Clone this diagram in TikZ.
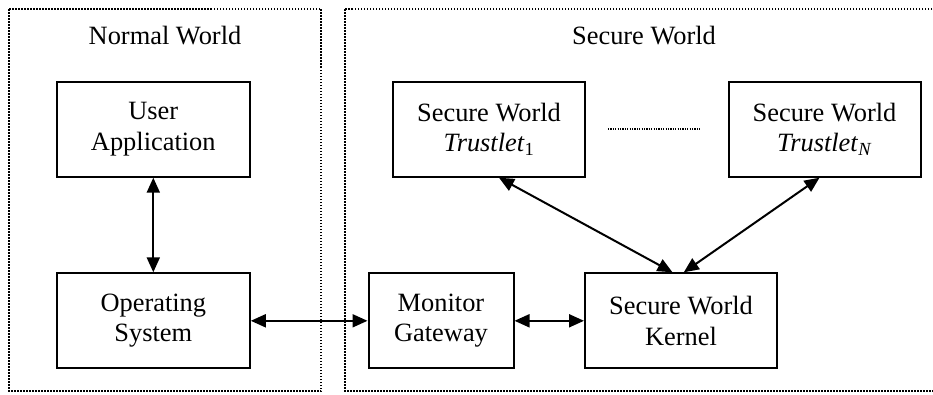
\documentclass[tikz,border=0pt]{standalone}
\usepackage{fontspec}
\setmainfont{Liberation Serif}
\usetikzlibrary{arrows.meta}
\begin{document}
\begin{tikzpicture}[x=1pt,y=-1pt,
  every node/.style={font=\fontsize{26.4}{30.4}\selectfont, align=center, inner sep=0pt},
  block/.style={draw, line width=2pt, minimum width=192pt, minimum height=95pt},
  world/.style={line width=1.5pt, dash pattern=on 1.5pt off 1.5pt},
  link/.style={line width=2pt, {Triangle[length=15pt,width=13pt]}-{Triangle[length=15pt,width=13pt]}},
  title/.style={}]
  \useasboundingbox (0,0) rectangle (933,394);

  % the two worlds
  \draw[world] (9,9) rectangle (321,391);
  \draw[world] (345,9) rectangle (945,391);
  \node[title] (nwt) at (165,36) {Normal World};
  \node[title] (swt) at (644,36) {Secure World};

  % normal world components
  \node[block, minimum width=193pt] (ua) at (153.3,129.2) {User\\Application};
  \node[block, minimum width=193pt] (os) at (153.3,320.8) {Operating\\System};

  % secure world components
  \node[block, minimum width=145pt] (mg) at (441,320.8) {Monitor\\Gateway};
  \node[block] (kern) at (681,320.8) {Secure World\\Kernel};
  \node[block] (t1) at (489,129.2) {Secure World\\\textit{Trustlet}\textsubscript{1}};
  \node[block] (tn) at (824.5,129.2) {Secure World\\\textit{Trustlet}\textsubscript{\textit{N}}};

  % ellipsis between the trustlets
  \coordinate (dl) at (608,129);
  \coordinate (dr) at (701,129);
  \draw[line width=1.2pt, dash pattern=on 1.2pt off 1.2pt] (dl) -- (dr);

  % connectors
  \draw[link] (ua.south) -- (os.north);
  \draw[link] (os.east) -- (mg.west);
  \draw[link] (mg.east) -- (kern.west);
  \draw[link] ([xshift=10pt]t1.south) -- ([xshift=-8.5pt]kern.north);
  \draw[link] ([xshift=-5pt]tn.south) -- ([xshift=2.8pt]kern.north);
\end{tikzpicture}
\end{document}
